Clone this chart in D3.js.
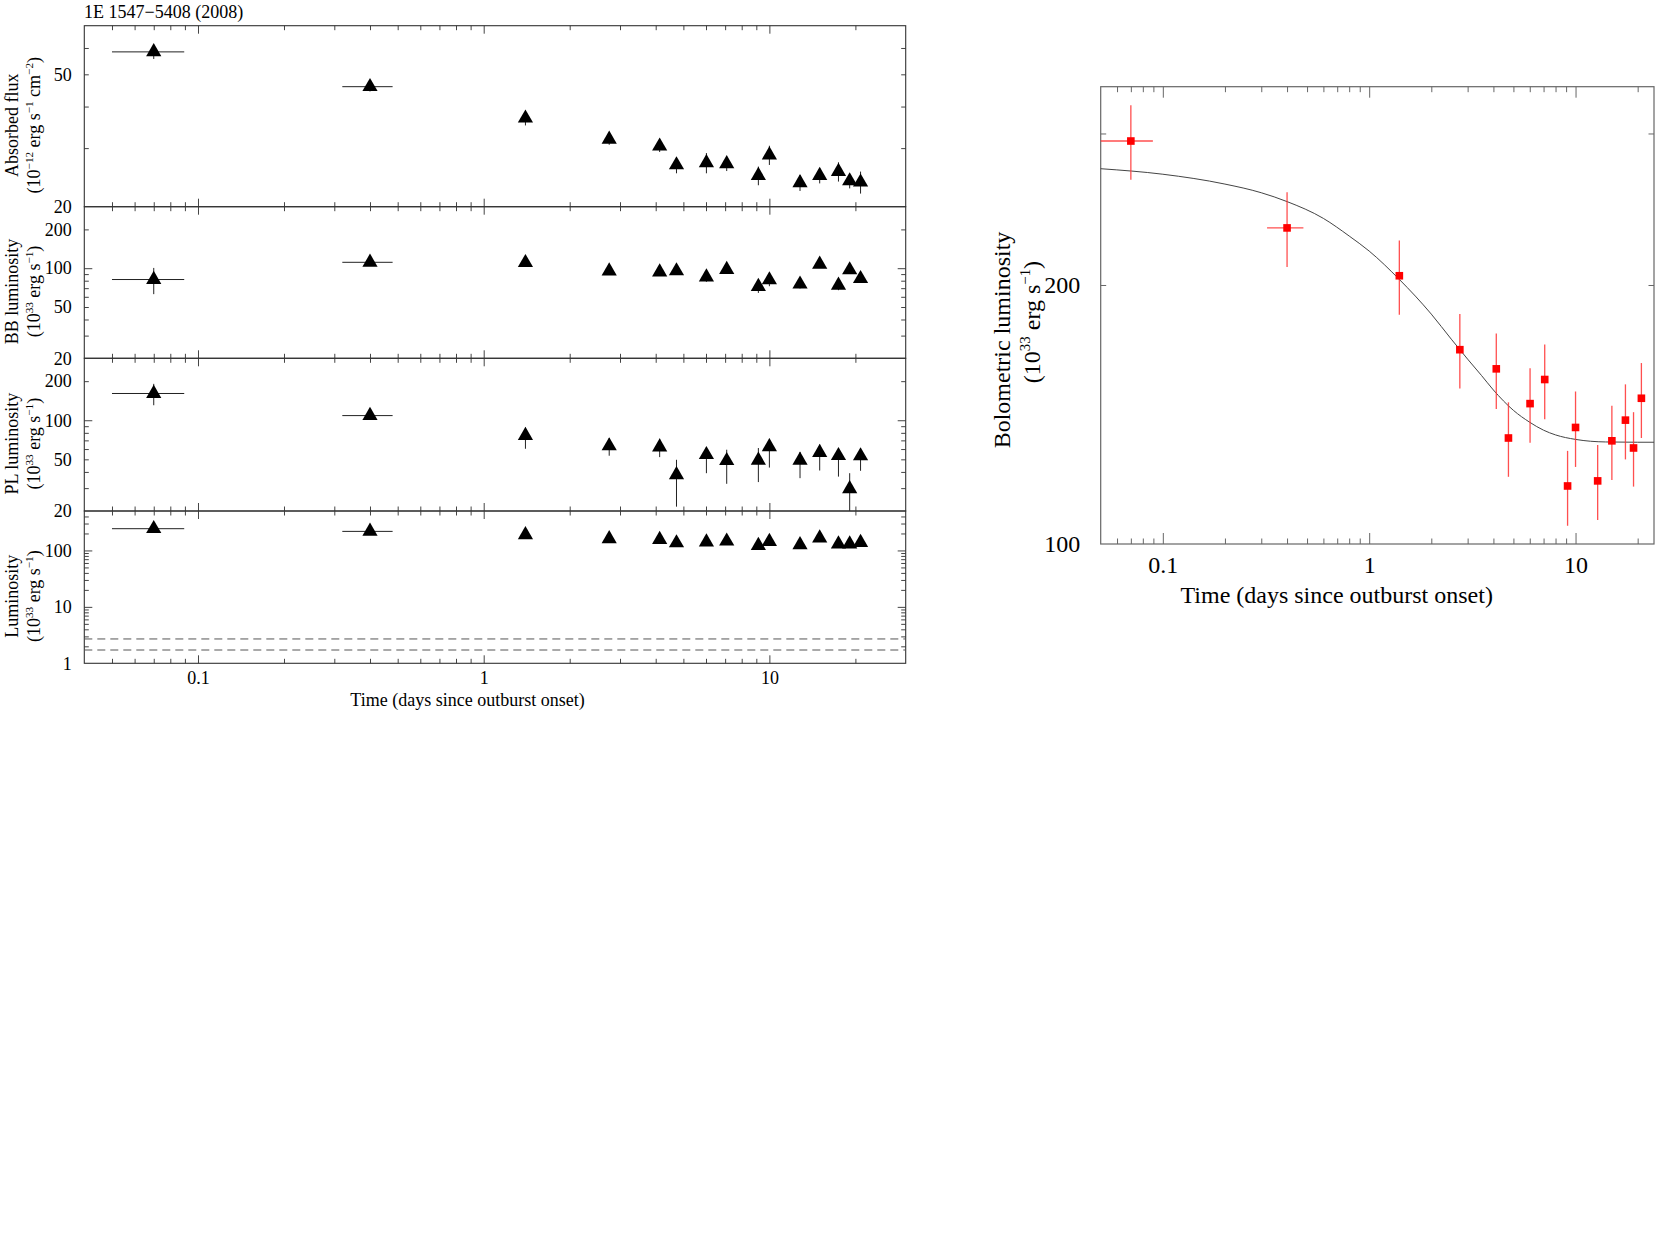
<!DOCTYPE html>
<html>
<head>
<meta charset="utf-8">
<script src="https://cdn.jsdelivr.net/npm/d3@7"></script>
<style>
  body { margin: 0; background: #fff; }
  svg { display: block; }
  text { font-family: 'Liberation Serif', 'Times New Roman', serif; fill: #000; }
</style>
</head>
<body>
<svg id="chart" width="1661" height="1246"></svg>
<script>
// observation times (days since outburst onset), shared by both figures
const days = [0.07, 0.40, 1.40, 2.75, 4.13, 4.73, 6.02, 7.09, 9.15, 10.0, 12.8, 15.0, 17.45, 19.1, 20.85];
// horizontal error bars only exist for the first two (long) observations
const dayLo = [0.05, 0.32];
const dayHi = [0.0895, 0.48];

// left figure, four stacked panels
const absFlux = [58.4, 45.9, 36.9, 31.9, 30.4, 26.7, 27.1, 26.9, 24.8, 28.6, 23.6, 24.8, 25.5, 23.9, 23.7];
const absFluxErr = [2.8, 1.5, 1.8, 1.2, 1.2, 1.5, 1.9, 1.3, 1.6, 1.9, 1.3, 1.3, 1.7, 1.2, 1.8];
const bbLum = [81.7, 111.1, 110.3, 95.0, 93.4, 95.2, 85.4, 97.7, 72.1, 81.1, 75.2, 107.2, 73.7, 96.9, 82.9];
const bbLumErr = [18.8, 4, 5, 4, 5, 4, 7, 4, 7.8, 8.6, 5.6, 4, 6.2, 4, 6];
const plLum = [160.7, 108.6, 76.3, 63.4, 62.2, 38.0, 54.3, 48.8, 49.1, 62.5, 49.1, 56.3, 53.3, 29.6, 53.1];
const plLumLo = [130.5, 103, 60.3, 53.3, 52.0, 21.6, 39.1, 32.4, 33.4, 43.2, 35.8, 41.0, 36.8, 20, 40.8];
const plLumHi = [190.7, 114, 88, 73, 72, 49.6, 62, 59.3, 61.1, 72, 57, 65, 61, 39.1, 61];
const totLum = [242.8, 217.6, 189.2, 160.7, 155.5, 135.9, 140.3, 146.1, 122.2, 143.9, 125.7, 165.3, 129.4, 129.4, 138.0];
const totLumErr = [10, 8, 8, 6, 6, 6, 6, 6, 6, 6, 6, 6, 6, 6, 6];
const quiescentLevels = [2.70, 1.72];

// right figure, bolometric luminosity and decay fit
const bolLum = [294, 233, 205, 168.2, 159.8, 132.8, 145.6, 155.3, 116.8, 136.6, 118.4, 131.8, 139.3, 129.3, 147.7];
const bolLo = [265, 209.8, 184.7, 151.6, 143.5, 119.7, 131.1, 139.6, 105, 122.9, 106.6, 118.7, 125.4, 116.6, 132.8];
const bolHi = [323.6, 256.3, 225.3, 185, 175.6, 146.1, 160, 170.6, 128.3, 150.4, 130.3, 144.8, 153.3, 142.3, 162.3];
const fitDays = [0.05, 0.1, 0.2, 0.3, 0.4, 0.6, 0.8, 1.0, 1.4, 2.0, 2.5, 3.0, 3.5, 4.0, 5.0, 6.0, 7.0, 8.0, 10, 14, 20, 24];
const fitLum = [273, 269, 262, 256, 250, 239, 228, 219, 203, 185, 173, 164, 157, 151, 143, 138.5, 135.6, 133.9, 132.3, 131.4, 131.3, 131.3];

// tick labels
const xLabels = [0.1, 1, 10];
const fluxLabels = [20, 50];
const compLabels = [20, 50, 100, 200];
const totLabels = [1, 10, 100];
const bolLabels = [100, 200];

const svg = d3.select('#chart');
const FONT = "'Liberation Serif', 'Times New Roman', serif";

function isDecade(v) {
    const l = Math.log10(v);
    return Math.abs(l - Math.round(l)) < 1e-6;
}

// inner tick marks of a log scale (k x 10^n), split in decade and minor ticks
function tickSplit(scale) {
    const d = scale.domain();
    const all = [];
    for (let e = Math.floor(Math.log10(d[0])); e <= Math.ceil(Math.log10(d[1])); e++) {
        for (let k = 1; k < 10; k++) {
            const v = e < 0 ? k / Math.pow(10, -e) : k * Math.pow(10, e);
            if (v > d[0] * 1.0001 && v < d[1] * 0.9999) all.push(v);
        }
    }
    return { major: all.filter(isDecade), minor: all.filter(v => !isDecade(v)) };
}

function marks(g, axisFn, scale, values, len, color) {
    g.call(axisFn(scale).tickValues(values).tickSize(-len).tickFormat(''))
        .attr('color', color)
        .call(a => a.select('.domain').remove());
}

function labels(g, axisFn, scale, values, padding, size) {
    g.call(axisFn(scale).tickValues(values).tickSize(0).tickPadding(padding).tickFormat(d3.format('~g')))
        .attr('font-family', FONT)
        .attr('font-size', size)
        .call(a => a.select('.domain').remove());
    g.selectAll('text').attr('fill', '#000');
}

// text with superscripts: parts = [[string, isSup], ...]
function rich(sel, parts, fs) {
    let up = false;
    parts.forEach(([t, s]) => {
        const ts = sel.append('tspan').text(t);
        if (s) ts.attr('font-size', fs * 0.62);
        if (s && !up) ts.attr('dy', -0.4 * fs);
        if (!s && up) ts.attr('dy', 0.4 * fs);
        up = s;
    });
}

function rotatedTitle(cx, cy, parts, fs) {
    const t = svg.append('text')
        .attr('transform', 'translate(' + cx + ',' + cy + ')rotate(-90)')
        .attr('text-anchor', 'middle')
        .attr('font-size', fs)
        .attr('y', 0.33 * fs);
    rich(t, parts, fs);
}

// ---------------- left figure ----------------
const L = { left: 84.3, right: 905.7 };
const x1 = d3.scaleLog().domain([0.04, 30]).range([L.left, L.right]);
const xt1 = tickSplit(x1);

const panels = [
    { top: 25.7, bottom: 206.7, domain: [20, 70], val: absFlux,
      lo: absFlux.map((v, i) => v - absFluxErr[i]), hi: absFlux.map((v, i) => v + absFluxErr[i]),
      labels: fluxLabels, title: [['Absorbed flux', false]],
      unit: [['(10', false], ['\u221212', true], [' erg s', false], ['\u22121', true], [' cm', false], ['\u22122', true], [')', false]] },
    { top: 206.7, bottom: 358.3, domain: [20, 300], val: bbLum,
      lo: bbLum.map((v, i) => v - bbLumErr[i]), hi: bbLum.map((v, i) => v + bbLumErr[i]),
      labels: compLabels, title: [['BB luminosity', false]],
      unit: [['(10', false], ['33', true], [' erg s', false], ['\u22121', true], [')', false]] },
    { top: 358.3, bottom: 511, domain: [20, 300], val: plLum, lo: plLumLo, hi: plLumHi,
      labels: compLabels, title: [['PL luminosity', false]],
      unit: [['(10', false], ['33', true], [' erg s', false], ['\u22121', true], [')', false]] },
    { top: 511, bottom: 663.3, domain: [1, 500], val: totLum,
      lo: totLum.map((v, i) => v - totLumErr[i]), hi: totLum.map((v, i) => v + totLumErr[i]),
      labels: totLabels, title: [['Luminosity', false]],
      unit: [['(10', false], ['33', true], [' erg s', false], ['\u22121', true], [')', false]], dashed: quiescentLevels }
];

panels.forEach((p, pi) => {
    const y = d3.scaleLog().domain(p.domain).range([p.bottom, p.top]);
    const yt = tickSplit(y);
    const g = svg.append('g');

    // tick marks on all four sides, pointing inward
    marks(g.append('g').attr('transform', 'translate(0,' + p.bottom + ')'), d3.axisBottom, x1, xt1.minor, 4.5, '#444');
    marks(g.append('g').attr('transform', 'translate(0,' + p.bottom + ')'), d3.axisBottom, x1, xt1.major, 8, '#444');
    marks(g.append('g').attr('transform', 'translate(0,' + p.top + ')'), d3.axisTop, x1, xt1.minor, 4.5, '#444');
    marks(g.append('g').attr('transform', 'translate(0,' + p.top + ')'), d3.axisTop, x1, xt1.major, 8, '#444');
    marks(g.append('g').attr('transform', 'translate(' + L.left + ',0)'), d3.axisLeft, y, yt.minor, 4.5, '#444');
    marks(g.append('g').attr('transform', 'translate(' + L.left + ',0)'), d3.axisLeft, y, yt.major, 8, '#444');
    marks(g.append('g').attr('transform', 'translate(' + L.right + ',0)'), d3.axisRight, y, yt.minor, 4.5, '#444');
    marks(g.append('g').attr('transform', 'translate(' + L.right + ',0)'), d3.axisRight, y, yt.major, 8, '#444');

    g.append('rect')
        .attr('x', L.left).attr('y', p.top)
        .attr('width', L.right - L.left).attr('height', p.bottom - p.top)
        .attr('fill', 'none').attr('stroke', '#333').attr('stroke-width', 1.1);

    labels(g.append('g').attr('transform', 'translate(' + L.left + ',0)'), d3.axisLeft, y, p.labels, 12.5, 18);
    if (pi === panels.length - 1) {
        labels(g.append('g').attr('transform', 'translate(0,' + p.bottom + ')'), d3.axisBottom, x1, xLabels, 7.5, 18);
    }

    if (p.dashed) {
        g.selectAll('line.dash').data(p.dashed).enter().append('line')
            .attr('x1', L.left).attr('x2', L.right)
            .attr('y1', d => y(d)).attr('y2', d => y(d))
            .attr('stroke', '#555').attr('stroke-width', 1).attr('stroke-dasharray', '8,5');
    }

    const cy = v => y(Math.max(v, p.domain[0]));
    g.selectAll('line.ey').data(days).enter().append('line')
        .attr('x1', d => x1(d)).attr('x2', d => x1(d))
        .attr('y1', (d, i) => cy(p.lo[i])).attr('y2', (d, i) => cy(p.hi[i]))
        .attr('stroke', '#222').attr('stroke-width', 1);
    g.selectAll('line.ex').data(dayLo).enter().append('line')
        .attr('x1', d => x1(d)).attr('x2', (d, i) => x1(dayHi[i]))
        .attr('y1', (d, i) => y(p.val[i])).attr('y2', (d, i) => y(p.val[i]))
        .attr('stroke', '#222').attr('stroke-width', 1);
    g.selectAll('path.tri').data(days).enter().append('path')
        .attr('d', d3.symbol(d3.symbolTriangle, 100))
        .attr('transform', (d, i) => 'translate(' + x1(d) + ',' + y(p.val[i]) + ')')
        .attr('fill', '#000');

    const mid = (p.top + p.bottom) / 2 + 9;
    rotatedTitle(12, mid, p.title, 18);
    rotatedTitle(34, mid, p.unit, 18);
});

svg.append('text').attr('x', 84).attr('y', 18).attr('font-size', 18).text('1E 1547\u22125408 (2008)');
svg.append('text').attr('x', 467.5).attr('y', 706).attr('font-size', 18).attr('text-anchor', 'middle')
    .text('Time (days since outburst onset)');

// ---------------- right figure ----------------
const R = { left: 1100.7, right: 1654, top: 86.7, bottom: 544 };
const x2 = d3.scaleLog().domain([0.05, 24]).range([R.left, R.right]);
const y2 = d3.scaleLog().domain([100, 340]).range([R.bottom, R.top]);
const xt2 = tickSplit(x2);
const yt2 = tickSplit(y2);
const gr = svg.append('g');

marks(gr.append('g').attr('transform', 'translate(0,' + R.bottom + ')'), d3.axisBottom, x2, xt2.minor, 5.5, '#666');
marks(gr.append('g').attr('transform', 'translate(0,' + R.bottom + ')'), d3.axisBottom, x2, xt2.major, 11, '#666');
marks(gr.append('g').attr('transform', 'translate(0,' + R.top + ')'), d3.axisTop, x2, xt2.minor, 5.5, '#666');
marks(gr.append('g').attr('transform', 'translate(0,' + R.top + ')'), d3.axisTop, x2, xt2.major, 11, '#666');
marks(gr.append('g').attr('transform', 'translate(' + R.left + ',0)'), d3.axisLeft, y2, yt2.minor, 5.5, '#666');
marks(gr.append('g').attr('transform', 'translate(' + R.right + ',0)'), d3.axisRight, y2, yt2.minor, 5.5, '#666');

gr.append('rect')
    .attr('x', R.left).attr('y', R.top)
    .attr('width', R.right - R.left).attr('height', R.bottom - R.top)
    .attr('fill', 'none').attr('stroke', '#666').attr('stroke-width', 1.2);

labels(gr.append('g').attr('transform', 'translate(' + R.left + ',0)'), d3.axisLeft, y2, bolLabels, 20.5, 24);
labels(gr.append('g').attr('transform', 'translate(0,' + R.bottom + ')'), d3.axisBottom, x2, xLabels, 11.5, 24);

const fit = d3.line()
    .x(d => x2(d[0])).y(d => y2(d[1]))
    .curve(d3.curveMonotoneX);
gr.append('path')
    .datum(fitDays.map((d, i) => [d, fitLum[i]]))
    .attr('d', fit)
    .attr('fill', 'none').attr('stroke', '#444').attr('stroke-width', 1);

gr.selectAll('line.ey').data(days).enter().append('line')
    .attr('x1', d => x2(d)).attr('x2', d => x2(d))
    .attr('y1', (d, i) => y2(bolLo[i])).attr('y2', (d, i) => y2(bolHi[i]))
    .attr('stroke', '#ff3030').attr('stroke-width', 1.3).attr('stroke-opacity', 0.85);
gr.selectAll('line.ex').data(dayLo).enter().append('line')
    .attr('x1', d => x2(d)).attr('x2', (d, i) => x2(dayHi[i]))
    .attr('y1', (d, i) => y2(bolLum[i])).attr('y2', (d, i) => y2(bolLum[i]))
    .attr('stroke', '#ff3030').attr('stroke-width', 1.3).attr('stroke-opacity', 0.85);
gr.selectAll('path.sq').data(days).enter().append('path')
    .attr('d', d3.symbol(d3.symbolSquare, 58))
    .attr('transform', (d, i) => 'translate(' + x2(d) + ',' + y2(bolLum[i]) + ')')
    .attr('fill', '#ff0000');

rotatedTitle(1002, 340, [['Bolometric luminosity', false]], 24);
rotatedTitle(1032, 322, [['(10', false], ['33', true], [' erg s', false], ['\u22121', true], [')', false]], 24);
svg.append('text').attr('x', 1336.7).attr('y', 603).attr('font-size', 24).attr('text-anchor', 'middle')
    .text('Time (days since outburst onset)');
</script>
</body>
</html>
